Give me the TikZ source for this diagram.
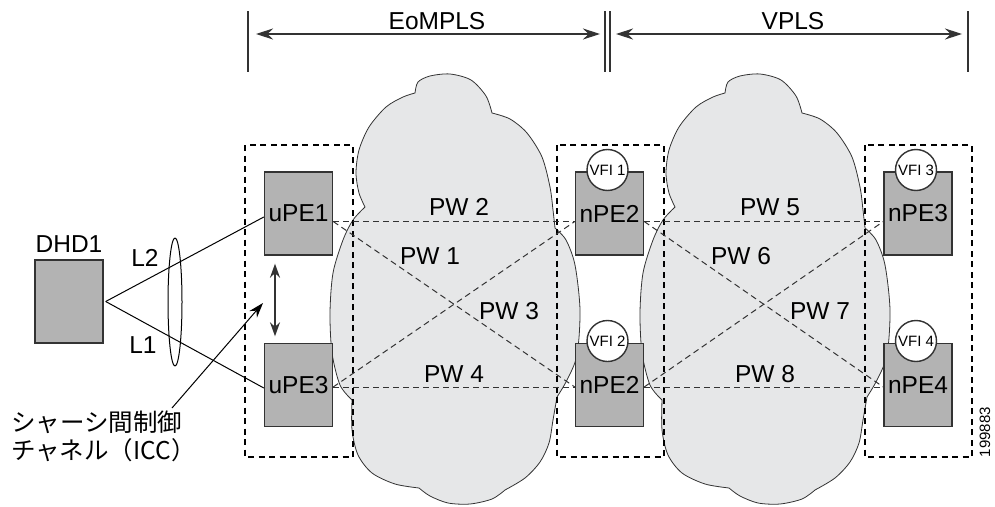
\documentclass[tikz,border=0pt]{standalone}
\usepackage{fontspec}
\setmainfont{Liberation Sans}
\newfontfamily\jpfont{Noto Sans CJK JP}
\usetikzlibrary{arrows.meta,calc,shapes.geometric}

\definecolor{devgray}{HTML}{B3B3B3}
\definecolor{cloudgray}{HTML}{E6E7E8}
\definecolor{ink}{HTML}{333333}

% outline of one MPLS cloud (left network); the right one is the same shape shifted
\newcommand{\cloudoutline}{%
  (352,400)
  -- plot[smooth] coordinates {(352,400) (340,385) (332,353) (330,313) (333,273) (343,240) (353,220) (365,207)}
  -- plot[smooth] coordinates {(365,207) (359,193) (356,173) (359,150) (369,127) (386,107) (403,97) (415,93)}
  -- plot[smooth] coordinates {(415,93) (418,82) (430,76) (450,74) (471,80) (486,96) (492,113)}
  -- plot[smooth] coordinates {(492,113) (510,119) (527,133) (542,157) (550,187) (553,210) (555,228)}
  -- plot[smooth] coordinates {(555,228) (566,240) (575,265) (580,310) (577,355) (567,380) (557,397)}
  -- plot[smooth] coordinates {(557,397) (553,420) (549,443) (540,462) (525,478) (505,490)}
  -- plot[smooth] coordinates {(505,490) (492,499) (470,504) (448,503) (430,496) (419,488)}
  -- plot[smooth] coordinates {(419,488) (395,484) (372,473) (358,455) (352,430) (352,400)}
  -- cycle}

\tikzset{
  device/.style={draw=ink, line width=1.4pt, fill=devgray, minimum width=68pt,
    minimum height=83pt, inner sep=0pt, font=\fontsize{24.5}{26}\selectfont},
  vfi/.style={circle, draw=ink, line width=1.4pt, fill=white, minimum size=41pt,
    inner sep=0pt, font=\fontsize{15}{16}\selectfont},
  redbox/.style={draw=black, line width=2.6pt, dash pattern=on 6pt off 4.5pt},
  pwline/.style={draw=ink, line width=1pt, dash pattern=on 6pt off 4pt},
  cloudbody/.style={fill=cloudgray, draw=ink, line width=0.8pt},
  spanarrow/.style={draw=ink, line width=1.2pt,
    {Stealth[length=17pt,width=11pt]}-{Stealth[length=17pt,width=11pt]}},
  tickline/.style={draw=ink, line width=1.2pt},
  lbl/.style={font=\fontsize{24.5}{26}\selectfont, inner sep=0pt},
  accesslink/.style={draw=black, line width=1pt},
}

\begin{document}
\begin{tikzpicture}[x=1pt,y=-1pt]
\useasboundingbox (0,0) rectangle (995,506);

% ---- section ticks and spans
\draw[tickline] (248,11) -- (248,72);
\draw[tickline] (605,11) -- (605,72);
\draw[tickline] (610,11) -- (610,72);
\draw[tickline] (968,11) -- (968,72);
\coordinate (eoL) at (256,34);
\coordinate (eoR) at (600,34);
\coordinate (vpL) at (616,34);
\coordinate (vpR) at (962,34);
\draw[spanarrow] (eoL) -- (eoR);
\draw[spanarrow] (vpL) -- (vpR);
\node[lbl] (eolabel) at (437,21) {EoMPLS};
\node[lbl] (vplabel) at (793,21) {VPLS};

% ---- clouds
\path[cloudbody] \cloudoutline;
\begin{scope}[xshift=310pt]
  \path[cloudbody] \cloudoutline;
\end{scope}

% ---- redundancy domains
\draw[redbox] (245,145) rectangle (353,457);
\draw[redbox] (557,145) rectangle (664,457);
\draw[redbox] (865,145) rectangle (972,457);

% ---- devices
\node[device] (dhd)   at (69,301.5)    {};
\node[device] (upe1)  at (298.5,213.5) {uPE1};
\node[device] (upe3)  at (298.5,385)   {uPE3};
\node[device] (npe2a) at (609.5,213.5) {nPE2};
\node[device] (npe2b) at (609.5,385)   {nPE2};
\node[device] (npe3)  at (918,213.5)   {nPE3};
\node[device] (npe4)  at (918,385)     {nPE4};
\node[lbl, anchor=south] (dhdlabel) at ([yshift=7pt]dhd.north) {DHD1};

% ---- pseudowire end points
\coordinate (u1e) at ([yshift=-8pt]upe1.east);
\coordinate (u3e) at ([yshift=-2pt]upe3.east);
\coordinate (n2aw) at ([yshift=-8pt]npe2a.west);
\coordinate (n2bw) at ([yshift=-2pt]npe2b.west);
\coordinate (n2ae) at ([yshift=-8pt]npe2a.east);
\coordinate (n2be) at ([yshift=-2pt]npe2b.east);
\coordinate (n3w) at ([yshift=-8pt]npe3.west);
\coordinate (n4w) at ([yshift=-2pt]npe4.west);

% ---- EoMPLS pseudowires
\draw[pwline] (u1e) -- (n2aw);
\draw[pwline] (u1e) -- (n2bw);
\draw[pwline] (u3e) -- (n2aw);
\draw[pwline] (u3e) -- (n2bw);
\node[lbl] (pw2) at (459,207) {PW 2};
\node[lbl] (pw1) at (430,256) {PW 1};
\node[lbl] (pw3) at (509,311) {PW 3};
\node[lbl] (pw4) at (454,374) {PW 4};

% ---- VPLS pseudowires
\draw[pwline] (n2ae) -- (n3w);
\draw[pwline] (n2ae) -- (n4w);
\draw[pwline] (n2be) -- (n3w);
\draw[pwline] (n2be) -- (n4w);
\node[lbl] (pw5) at (770,207) {PW 5};
\node[lbl] (pw6) at (741,256) {PW 6};
\node[lbl] (pw7) at (820,311) {PW 7};
\node[lbl] (pw8) at (765,374) {PW 8};

% ---- VFI instances
\node[vfi] (vfi1) at (607.5,170) {VFI 1};
\node[vfi] (vfi2) at (607.5,341) {VFI 2};
\node[vfi] (vfi3) at (916,170)   {VFI 3};
\node[vfi] (vfi4) at (916,341)   {VFI 4};

% ---- dual-homed access links
\coordinate (dport) at ([xshift=2pt]dhd.east);
\draw[accesslink] (dport) -- ([yshift=-3.5pt]upe1.west);
\draw[accesslink] (dport) -- ([yshift=-3pt]upe3.west);
\node[draw=black, line width=1pt, ellipse, minimum width=14pt, minimum height=128pt, inner sep=0pt] (lag) at (175,302) {};
\node[lbl] (l2) at (145,258) {L2};
\node[lbl] (l1) at (143,345) {L1};

% ---- inter-chassis control channel
\coordinate (icctop) at ([xshift=-23.5pt,yshift=-8pt]upe1.south);
\coordinate (iccbot) at ([xshift=-23.5pt,yshift=6.5pt]upe3.north);
\draw[draw=ink, line width=1.5pt,
  {Stealth[length=14pt,width=10pt]}-{Stealth[length=14pt,width=10pt]}] (icctop) -- (iccbot);
\node[anchor=north west, align=left, inner sep=0pt, font=\jpfont\fontsize{24.5}{28}\selectfont]
  (icc) at (11,411) {シャーシ間制御\\チャネル（ICC）};
\coordinate (iccfoot) at (172,408);
\coordinate (icctip) at (263,303);
\draw[draw=black, line width=1pt, -{Stealth[length=15pt,width=10pt]}] (iccfoot) -- (icctip);

% ---- figure number
\node[rotate=90, inner sep=0pt, font=\fontsize{15}{15}\selectfont] (fignum) at (985,432) {199883};
\end{tikzpicture}
\end{document}
